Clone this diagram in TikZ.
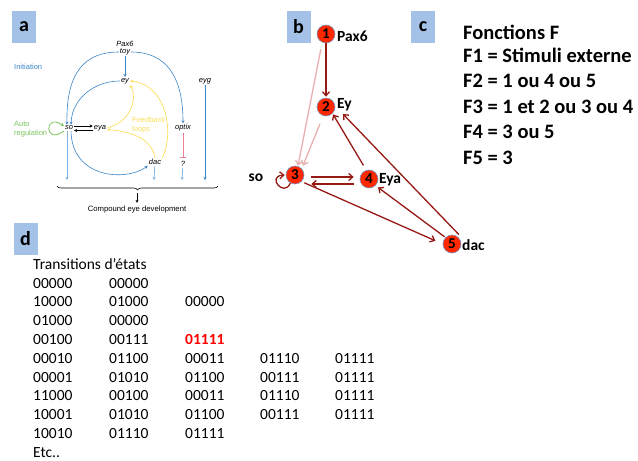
\documentclass[tikz,border=0pt]{standalone}
\usepackage{fontspec}
\setmainfont{Carlito}
\newfontfamily\arialfont{Liberation Sans}
\usetikzlibrary{arrows.meta,decorations.pathreplacing}
\definecolor{labelblue}{RGB}{164,194,232}
\definecolor{ablue}{RGB}{58,134,200}
\definecolor{alight}{RGB}{125,178,226}
\definecolor{ayellow}{RGB}{250,222,90}
\definecolor{agreen}{RGB}{120,195,90}
\definecolor{apink}{RGB}{240,130,150}
\definecolor{bred}{RGB}{255,40,0}
\definecolor{bring}{RGB}{120,150,200}
\definecolor{bedge}{RGB}{150,25,20}
\definecolor{bpale}{RGB}{232,175,175}
\begin{document}
\begin{tikzpicture}[x=1pt,y=-1pt,
  panel/.style={fill=labelblue, minimum width=24pt, minimum height=32pt, inner sep=0pt, font=\fontsize{20}{20}\selectfont\bfseries},
  gname/.style={font=\arialfont\itshape\fontsize{7.5}{8}\selectfont, inner sep=1pt},
  note/.style={font=\arialfont\fontsize{7.5}{8.5}\selectfont, align=left, anchor=west, inner sep=0pt},
  barr/.style={draw=ablue, line width=0.6pt, -{Stealth[length=3pt,width=3pt]}},
  larr/.style={draw=alight, line width=0.8pt, -{Stealth[length=3pt,width=3pt]}},
  yarr/.style={draw=ayellow, line width=0.7pt, -{Stealth[length=3pt,width=3pt]}},
  karr/.style={draw=black, line width=0.6pt, -{Stealth[length=3pt,width=3pt]}},
  gene/.style={circle, fill=bred, draw=bring, line width=0.6pt, minimum size=18pt, inner sep=0pt, font=\fontsize{15}{15}\selectfont\bfseries},
  glabel/.style={font=\fontsize{15.5}{16}\selectfont\bfseries, inner sep=0pt},
  rarr/.style={draw=bedge, line width=1.3pt, -{Straight Barb[length=4pt,width=7pt]}},
  parr/.style={draw=bpale, line width=1.3pt, -{Straight Barb[length=4pt,width=7pt]}}]
\useasboundingbox (0,0) rectangle (638,461);

% panel labels
\node[panel] (la) at (24,27) {a};
\node[panel] (lb) at (298.5,27) {b};
\node[panel] (lc) at (423,27) {c};
\node[panel] (ld) at (25.5,239) {d};

% panel a: network
\node[gname] (pax) at (125,44) {Pax6};
\node[gname] (toy) at (125,52) {toy};
\node[gname] (ey) at (125,81) {ey};
\node[gname] (eyg) at (205,81) {eyg};
\node[gname] (so) at (69,128) {so};
\node[gname] (eya) at (100,128) {eya};
\node[gname] (optix) at (183,128) {optix};
\node[gname] (dac) at (155,162) {dac};
\node[gname] (unk) at (183,164) {?};
\node[note, text=ablue] (init) at (14,67) {Initiation};
\node[note, text=agreen] (auto) at (14,129) {Auto\\regulation};
\node[note, text=ayellow] (fb) at (132,125) {Feedback\\loops};
\node[font=\arialfont\fontsize{7.7}{8}\selectfont] (dev) at (137,210) {Compound eye development};
\coordinate (bl) at (57,186);
\coordinate (br) at (218,186);
\coordinate (tip) at (137,193);
\coordinate (soend) at (67,180);
\coordinate (dacend) at (154,180);
\coordinate (unkend) at (182,180);
\coordinate (eygend) at (205,180);

\draw[barr] (toy) -- (ey);
\draw[barr] (toy.west) .. controls (85,52) and (66,72) .. ([xshift=-2pt]so.north);
\draw[barr] (toy.east) .. controls (165,52) and (183,75) .. (optix.north);
\draw[barr] (ey.west) .. controls (95,81) and (72,98) .. ([xshift=2pt]so.north);
\draw[barr] ([xshift=2pt]so.south) .. controls (72,178) and (125,182) .. (dac.south west);
\draw[barr] (eyg) -- (eygend);
\draw[larr] ([xshift=-2pt]so.south) -- (soend);
\draw[larr] (dac) -- (dacend);
\draw[larr] (unk) -- (unkend);
\draw[draw=apink, line width=0.8pt, -{Bar[width=6pt]}, shorten >=2pt] (optix) -- (unk);
\draw[yarr] (eya.east) .. controls (130,122) and (138,100) .. (ey.south east);
\draw[yarr] (dac.north) .. controls (152,140) and (135,132) .. ([yshift=-1.5pt]eya.east);
\draw[yarr] (dac.north east) .. controls (174,135) and (168,85) .. (ey.east);
\draw[karr] ([yshift=2pt]so.east) -- ([yshift=2pt]eya.west);
\draw[karr] ([yshift=-2.5pt]eya.west) -- ([yshift=-2.5pt]so.east);
\draw[draw=agreen, line width=0.8pt, -{Stealth[length=3pt,width=3pt]}] ([yshift=-3pt]so.west) .. controls (44,146) and (44,112) .. ([yshift=2pt]so.west);
\draw[decorate, decoration={brace, amplitude=4pt, mirror}, line width=0.6pt] (bl) -- (br);
\draw[karr] (tip) -- (dev);

% panel b: boolean network
\node[gene] (n1) at (326,34) {1};
\node[gene] (n2) at (326,107) {2};
\node[gene] (n3) at (295,175) {3};
\node[gene] (n4) at (369,179) {4};
\node[gene] (n5) at (452,244) {5};
\node[glabel, anchor=west] (t1) at (337,36) {Pax6};
\node[glabel, anchor=west] (t2) at (337,105) {Ey};
\node[glabel] (t3) at (256,178) {so};
\node[glabel, anchor=west] (t4) at (379,180) {Eya};
\node[glabel, anchor=west] (t5) at (462,245) {dac};

\draw[rarr, shorten >=1pt] (n1) -- (n2);
\draw[parr, shorten <=6pt] ([xshift=-4pt]n1.south) -- ([xshift=3pt]n3.north);
\draw[parr, shorten <=8pt] ([xshift=-3pt]n2.south) -- ([xshift=8pt]n3.north);
\draw[rarr, shorten <=7pt, shorten >=6pt] (n3.east |- 0,177) -- (n4.west |- 0,177);
\draw[rarr, shorten <=6pt, shorten >=7pt] (n4.west |- 0,184) -- (n3.east |- 0,184);
\draw[rarr, shorten <=5pt, shorten >=1pt] ([xshift=-3pt]n4.north) -- (n2.south east);
\draw[rarr, shorten >=2pt] ([xshift=7pt]n5.north) -- ([xshift=9pt,yshift=1pt]n2.south east);
\draw[rarr, shorten <=1pt, shorten >=3pt] (n5.north west) -- (n4.south east);
\draw[rarr, shorten <=3pt, shorten >=8pt] (n3.south east) -- (n5.west);
\draw[rarr, shorten >=1pt] (n3.240) .. controls (284,198) and (266,176) .. (n3.west);

% panel c: functions
\node[anchor=north west, inner sep=0pt, align=left, font=\fontsize{20.5}{25.5}\selectfont\bfseries] (fct) at (463,25) {Fonctions F\\[-3pt]F1 = Stimuli externe\\F2 = 1 ou 4 ou 5\\F3 = 1 et 2 ou 3 ou 4\\F4 = 3 ou 5\\F5 = 3};

% panel d: state transitions
\node[anchor=north west, inner sep=0pt, font=\fontsize{15.5}{18.8}\selectfont] (trans) at (33,256) {%
\begin{tabular}{@{}p{76pt}@{}p{76pt}@{}p{75pt}@{}p{75pt}@{}l@{}}
\multicolumn{5}{@{}l}{Transitions d’états}\\
00000 & 00000 \\
10000 & 01000 & 00000 \\
01000 & 00000 \\
00100 & 00111 & \textcolor{red}{\bfseries 01111} \\
00010 & 01100 & 00011 & 01110 & 01111 \\
00001 & 01010 & 01100 & 00111 & 01111 \\
11000 & 00100 & 00011 & 01110 & 01111 \\
10001 & 01010 & 01100 & 00111 & 01111 \\
10010 & 01110 & 01111 \\
Etc..
\end{tabular}};
\end{tikzpicture}
\end{document}
